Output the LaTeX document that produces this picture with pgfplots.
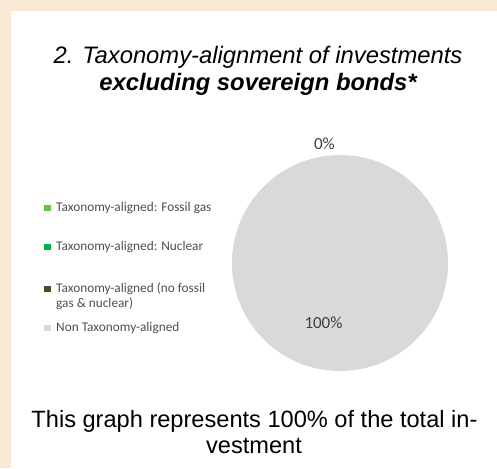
\documentclass[border=0pt]{standalone}
\usepackage{pgfplots}
\pgfplotsset{compat=1.18}
\usepackage{pgfplotstable}
\usepackage{fontspec}
\setmainfont{Liberation Sans}
\newfontfamily\calibri{Carlito}
\definecolor{bgbeige}{HTML}{FBE9D7}
\definecolor{cfossil}{HTML}{6BBF4A}
\definecolor{cnuclear}{HTML}{00B050}
\definecolor{cdark}{HTML}{375623}
\definecolor{cnon}{HTML}{D9D9D9}
\definecolor{legtext}{HTML}{505050}
\definecolor{labtext}{HTML}{404040}

% shares of the pie, in percent
\pgfplotstableread{
value
0
0
0
100
}\piedata

\def\cum{0}
\newcommand\drawslice[2]{%
  \pgfmathsetmacro\sa{90-3.6*\cum}%
  \pgfmathsetmacro\sb{90-3.6*(\cum+#1)}%
  \ifdim #1pt>0pt
    \edef\tmp{\noexpand\fill[#2] (axis cs:340,205) -- ++(\sa:108pt) arc[start angle=\sa, end angle=\sb, radius=108pt] -- cycle;}\tmp
  \fi
  \pgfmathsetmacro\newcum{\cum+#1}\global\let\cum\newcum
}

\begin{document}
\begin{tikzpicture}
\begin{axis}[
  hide axis, scale only axis,
  width=497pt, height=468pt,
  xmin=0, xmax=497, ymin=0, ymax=468,
  clip=false,
]
\fill[bgbeige] (axis cs:0,0) rectangle (axis cs:497,468);
\fill[white] (axis cs:11,0) rectangle (axis cs:497,457);

% pie
\pgfplotstablegetelem{0}{value}\of\piedata \drawslice{\pgfplotsretval}{cfossil}
\pgfplotstablegetelem{1}{value}\of\piedata \drawslice{\pgfplotsretval}{cnuclear}
\pgfplotstablegetelem{2}{value}\of\piedata \drawslice{\pgfplotsretval}{cdark}
\pgfplotstablegetelem{3}{value}\of\piedata \drawslice{\pgfplotsretval}{cnon}

\node[font=\calibri\fontsize{17}{20}\selectfont, text=labtext, anchor=center, inner sep=0pt] at (axis cs:324.5,324) {0\%};
\node[font=\calibri\fontsize{17}{20}\selectfont, text=labtext, anchor=center, inner sep=0pt] at (axis cs:323.5,145) {100\%};

% titles
\node[font=\fontsize{23.8}{27}\selectfont\itshape, anchor=base, inner sep=0pt] at (axis cs:258,404) {2. Taxonomy-alignment of investments};
\node[font=\fontsize{23.8}{27}\selectfont\bfseries\itshape, anchor=base, inner sep=0pt] at (axis cs:258,377) {excluding sovereign bonds*};

% bottom text
\node[font=\fontsize{23.6}{27}\selectfont, anchor=base, inner sep=0pt] at (axis cs:254.5,41) {This graph represents 100\% of the total in-};
\node[font=\fontsize{23.6}{27}\selectfont, anchor=base, inner sep=0pt] at (axis cs:254,15) {vestment};

% legend
\fill[cfossil] (axis cs:44,256.5) rectangle (axis cs:50.5,263);
\node[font=\calibri\fontsize{13.3}{15}\selectfont, text=legtext, anchor=base west, inner sep=0pt] at (axis cs:56,256) {Taxonomy-aligned: Fossil gas};
\fill[cnuclear] (axis cs:44,217.5) rectangle (axis cs:50.5,224);
\node[font=\calibri\fontsize{13.3}{15}\selectfont, text=legtext, anchor=base west, inner sep=0pt] at (axis cs:56,217) {Taxonomy-aligned: Nuclear};
\fill[cdark] (axis cs:44,175.5) rectangle (axis cs:50.5,182);
\node[font=\calibri\fontsize{13.3}{15}\selectfont, text=legtext, anchor=base west, inner sep=0pt] at (axis cs:56,175) {Taxonomy-aligned (no fossil};
\node[font=\calibri\fontsize{13.3}{15}\selectfont, text=legtext, anchor=base west, inner sep=0pt] at (axis cs:56,160.5) {gas \& nuclear)};
\fill[cnon] (axis cs:44,136.5) rectangle (axis cs:50.5,143);
\node[font=\calibri\fontsize{13.3}{15}\selectfont, text=legtext, anchor=base west, inner sep=0pt] at (axis cs:56,136) {Non Taxonomy-aligned};
\end{axis}
\end{tikzpicture}
\end{document}
